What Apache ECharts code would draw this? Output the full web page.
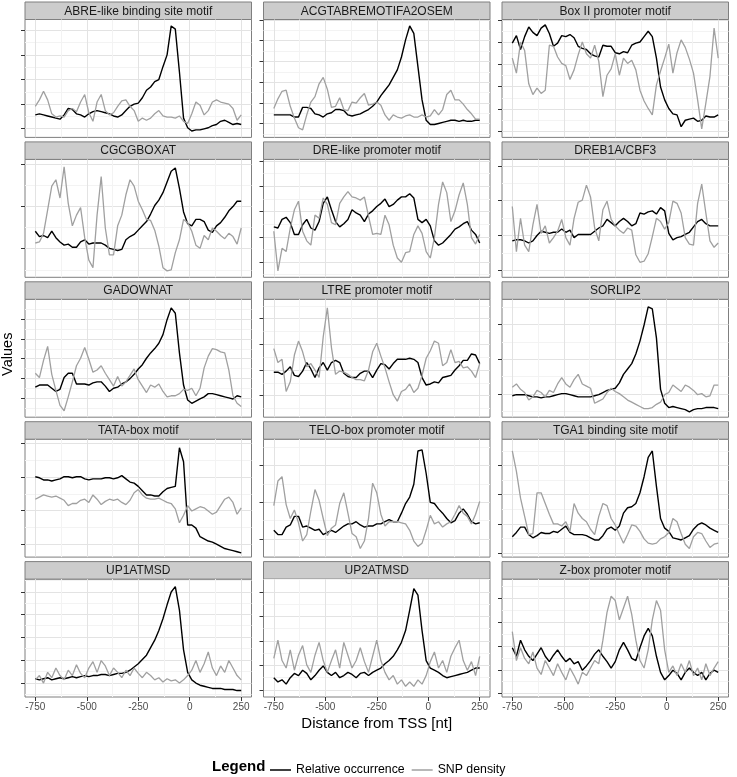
<!DOCTYPE html>
<html><head><meta charset="utf-8">
<script src="https://cdn.jsdelivr.net/npm/echarts@6/dist/echarts.min.js"></script>
<style>html,body{margin:0;padding:0;background:#fff;}#chart{width:737px;height:777px;}</style>
</head><body><div id="chart"></div>
<script>
// ---------------- data ----------------
const distance = [-750,-730,-710,-690,-670,-650,-630,-610,-590,-570,-550,-530,-510,-490,-470,-450,-430,-410,-390,-370,-350,-330,-310,-290,-270,-250,-230,-210,-190,-170,-150,-130,-110,-90,-70,-50,-30,-10,10,30,50,70,90,110,130,150,170,190,210,230,250];
const xTickValues = [-750,-500,-250,0,250];
const seriesNames = ['Relative occurrence','SNP density'];

const occ_ABRE = [16,17,16,15,14,13,12,16,22,21,17,16,14,17,19,20,19,18,17,15,14,16,20,24,26,27,32,39,42,47,49,61,72,99,96,56,13,4,1,2,2,3,4,6,7,10,11,9,7,8,7];
const snp_ABRE = [24,30,38,30,17,14,15,14,20,22,19,28,35,18,10,28,35,20,16,18,24,29,30,24,20,10,13,11,13,17,20,15,14,14,13,15,10,8,17,28,25,16,20,28,30,28,27,26,22,11,16];
const ticks_ABRE = [4,26,49,72,95];

const occ_ACGT = [16,16,16,16,16,14,14,23,23,22,17,16,14,17,18,21,21,20,16,15,16,17,19,21,24,28,34,39,44,51,58,70,86,99,92,61,30,11,7,7,8,9,10,11,11,10,11,10,10,11,11];
const snp_ACGT = [22,31,38,39,24,13,4,2,16,28,33,45,51,40,23,24,32,21,20,28,27,32,36,25,26,28,25,16,11,16,14,13,15,16,14,14,16,14,15,21,16,21,35,39,30,30,26,21,17,12,12];
const ticks_ACGT = [104.5,85.2,65.6,46.3,27.1,7.8];

const occ_BOX2 = [83,90,77,89,98,93,90,97,100,92,80,83,90,89,91,88,80,78,77,73,71,70,81,80,80,74,73,75,74,81,83,84,89,94,89,69,42,30,22,17,16,5,11,12,13,10,11,15,14,14,16];
const snp_BOX2 = [69,55,84,76,45,35,41,36,39,81,80,70,64,62,49,58,72,84,73,69,81,66,33,53,59,73,53,69,64,67,58,39,29,22,16,44,57,69,82,55,74,86,79,68,55,30,3,27,52,97,69];
const ticks_BOX2 = [104.5,83.7,63.1,42.3,21.5,0.9];

const occ_CGCG = [38,33,34,32,38,32,28,25,26,23,23,28,30,26,27,27,27,25,22,21,20,21,30,33,35,39,43,47,54,62,67,74,84,94,97,78,56,45,43,49,49,47,39,37,43,46,51,57,61,66,66];
const snp_CGCG = [27,28,36,58,80,86,69,98,64,43,53,60,32,11,4,53,89,41,16,16,43,53,72,86,80,66,58,49,48,39,24,4,1,2,18,30,49,46,38,25,22,34,30,41,38,34,31,36,33,26,41];
const ticks_CGCG = [100.6,61.2,21.7];

const occ_DRE = [42,41,49,51,46,35,35,44,49,41,39,47,64,70,58,47,42,45,49,58,55,53,47,54,57,61,64,68,61,63,67,70,70,73,69,49,46,49,43,29,25,27,31,35,40,42,45,47,39,35,27];
const snp_DRE = [38,1,22,19,41,58,66,38,29,25,53,50,69,63,46,44,64,70,75,70,69,67,70,52,35,36,35,53,44,25,13,9,18,19,35,43,36,19,13,32,63,84,74,47,57,72,83,63,32,26,35];
const ticks_DRE = [103.7,79.8,56.5,32.6,9.3];

const occ_DREB = [29,30,30,29,27,29,34,38,37,36,37,37,40,37,39,32,35,35,35,35,38,41,43,49,46,43,47,50,47,43,45,55,54,56,57,54,60,57,36,30,32,33,35,37,42,47,49,45,43,43,43];
const snp_DREB = [61,19,50,25,19,44,63,36,43,27,32,38,49,32,25,50,65,67,81,70,41,29,58,66,49,43,39,36,41,39,16,9,10,17,33,50,47,40,46,66,64,55,32,26,25,64,82,55,29,23,27];
const ticks_DREB = [98.4,66.5,33.9,1.6];

const occ_GAD = [23,25,25,25,22,19,21,32,36,36,26,26,26,25,27,28,28,24,19,22,23,26,28,31,35,40,44,50,55,59,64,72,86,97,92,55,25,11,8,10,12,14,17,17,16,15,14,13,12,15,14];
const snp_GAD = [36,32,48,61,35,20,6,1,14,28,43,50,60,49,37,39,43,36,30,24,33,24,28,34,40,30,24,18,25,23,26,19,14,15,15,17,21,20,22,15,22,41,52,59,58,56,55,39,15,8,5];
const ticks_GAD = [86.5,67.9,49.6,31.2,12.9];

const occ_LTRE = [37,37,35,38,42,34,33,38,46,40,32,41,46,39,46,48,46,36,33,32,32,36,38,38,32,39,45,44,40,45,49,49,49,50,49,46,32,25,26,28,27,32,33,34,39,43,48,48,54,53,45];
const snp_LTRE = [59,46,49,19,28,53,66,56,42,45,39,32,70,97,60,35,38,37,35,32,30,30,29,39,56,64,52,41,28,16,10,19,21,26,18,22,34,50,57,66,64,43,46,58,46,47,41,42,38,32,45];
const ticks_LTRE = [86.9,62.6,38.7,15.1];

const occ_SORLIP = [15,16,16,16,15,14,14,13,14,14,15,16,17,17,16,15,14,14,14,14,15,16,18,20,21,22,27,35,40,45,54,66,81,98,96,69,21,8,4,5,4,3,2,0,2,3,3,4,4,4,3];
const snp_SORLIP = [23,26,21,18,11,14,20,18,14,20,18,26,32,26,23,30,35,26,24,22,8,10,12,18,22,19,17,14,11,9,7,5,3,3,4,7,9,16,18,25,22,19,25,23,20,16,17,14,15,25,25];
const ticks_SORLIP = [81.3,49.3,16.6];

const occ_TATA = [70,69,67,67,66,67,68,70,70,69,70,70,68,67,68,68,68,69,69,68,69,71,68,65,64,61,57,53,53,52,52,56,59,60,61,97,84,25,25,22,14,12,10,9,7,5,3,2,1,0,-1];
const snp_TATA = [49,51,53,52,51,52,50,48,43,45,45,48,49,46,53,49,44,47,49,48,49,46,44,48,55,58,53,50,49,49,50,48,46,45,40,27,34,43,38,40,42,41,38,35,37,43,49,51,46,35,41];
const ticks_TATA = [101.4,69.4,38.3,6.6];

const occ_TELO = [20,16,16,23,25,33,33,23,24,22,20,21,16,18,20,18,21,24,26,26,28,25,23,24,24,26,26,28,30,28,28,36,45,51,63,94,95,73,46,45,40,36,31,27,29,36,40,35,28,26,27];
const snp_TELO = [43,66,70,44,31,39,27,10,16,38,58,48,31,15,22,25,45,55,36,17,14,3,10,31,64,55,35,24,28,28,28,27,26,20,10,5,8,20,34,26,28,23,26,28,35,43,36,33,26,35,47];
const ticks_TELO = [80.5,46.3,11.6];

const occ_TGA1 = [14,18,23,23,16,13,15,18,17,17,19,18,21,24,18,16,16,16,15,13,11,11,15,21,23,20,24,36,41,42,45,55,70,88,94,61,31,22,19,13,12,11,13,15,21,25,27,25,22,20,18];
const snp_TGA1 = [94,75,50,33,16,17,55,55,45,35,26,26,24,28,19,45,36,31,28,21,16,33,45,43,31,25,16,8,16,25,24,19,12,8,7,8,12,14,18,31,28,17,7,3,14,18,17,10,4,7,8];
const ticks_TGA1 = [80.5,53.2,25.8,-1.2];

const occ_UP1 = [12,11,12,13,11,12,13,12,13,14,13,14,15,14,15,15,16,16,15,16,17,17,18,20,23,26,30,34,41,48,57,68,81,93,98,76,39,18,11,8,6,5,4,3,3,3,2,2,2,1,1];
const snp_UP1 = [11,15,8,18,13,22,15,11,20,15,25,17,13,22,28,18,29,24,15,22,18,13,20,15,22,17,13,18,15,11,13,9,12,10,11,8,11,15,20,29,18,26,37,22,15,24,18,29,22,15,11];
const ticks_UP1 = [92.9,72.4,51,29.5,8];

const occ_UP2 = [13,9,11,7,13,17,15,20,17,11,15,20,24,18,15,18,13,15,18,16,13,17,18,15,18,20,22,26,29,33,39,46,57,76,96,90,57,29,22,20,18,15,13,14,15,16,17,18,20,22,22];
const snp_UP2 = [31,48,29,22,39,20,34,43,25,18,34,46,29,18,29,39,22,46,34,22,29,41,28,18,33,48,29,18,11,15,7,11,5,9,5,11,7,15,28,37,22,29,18,33,41,48,29,20,28,15,33];
const ticks_UP2 = [93,70.5,47.2,24.8,1.5];

const occ_ZBOX = [41,33,48,39,33,29,35,41,33,28,34,39,33,28,31,26,28,20,24,29,35,39,33,28,22,28,39,46,39,31,29,41,52,59,52,33,18,11,15,20,17,11,18,22,18,15,18,11,17,20,18];
const snp_ZBOX = [56,29,41,31,26,37,22,16,29,22,15,26,18,11,22,15,7,18,15,22,29,26,48,74,89,85,67,78,89,72,48,29,22,39,67,85,76,39,18,24,15,26,18,29,15,22,11,26,15,22,28];
const ticks_ZBOX = [87.3,65,42.5,20.1,-1.3];

const panels = [
  {name:'ABRE-like binding site motif', occ:occ_ABRE, snp:snp_ABRE, ticks:ticks_ABRE},
  {name:'ACGTABREMOTIFA2OSEM', occ:occ_ACGT, snp:snp_ACGT, ticks:ticks_ACGT},
  {name:'Box II promoter motif', occ:occ_BOX2, snp:snp_BOX2, ticks:ticks_BOX2},
  {name:'CGCGBOXAT', occ:occ_CGCG, snp:snp_CGCG, ticks:ticks_CGCG},
  {name:'DRE-like promoter motif', occ:occ_DRE, snp:snp_DRE, ticks:ticks_DRE},
  {name:'DREB1A/CBF3', occ:occ_DREB, snp:snp_DREB, ticks:ticks_DREB},
  {name:'GADOWNAT', occ:occ_GAD, snp:snp_GAD, ticks:ticks_GAD},
  {name:'LTRE promoter motif', occ:occ_LTRE, snp:snp_LTRE, ticks:ticks_LTRE},
  {name:'SORLIP2', occ:occ_SORLIP, snp:snp_SORLIP, ticks:ticks_SORLIP},
  {name:'TATA-box motif', occ:occ_TATA, snp:snp_TATA, ticks:ticks_TATA},
  {name:'TELO-box promoter motif', occ:occ_TELO, snp:snp_TELO, ticks:ticks_TELO},
  {name:'TGA1 binding site motif', occ:occ_TGA1, snp:snp_TGA1, ticks:ticks_TGA1},
  {name:'UP1ATMSD', occ:occ_UP1, snp:snp_UP1, ticks:ticks_UP1},
  {name:'UP2ATMSD', occ:occ_UP2, snp:snp_UP2, ticks:ticks_UP2},
  {name:'Z-box promoter motif', occ:occ_ZBOX, snp:snp_ZBOX, ticks:ticks_ZBOX}
];

// ---------------- layout ----------------
const FONT = '"Liberation Sans", Arial, Helvetica, sans-serif';
const colLeft = [25, 263.5, 502];
const panelW = 226.5;
const rowTop0 = 2, rowPitch = 139.9, stripH = 17.5, panelH = 117.9;
const yMin = -5, yMax = 105, xMin = -800, xMax = 300;
const majorColor = '#e3e3e3', minorColor = '#f3f3f3', borderColor = '#7f7f7f';

function minorOf(vals, lo, hi) {
  const s = vals.slice().sort((a,b)=>a-b), out = [];
  for (let i = 0; i < s.length - 1; i++) out.push((s[i]+s[i+1])/2);
  if (s.length > 1) {
    const step = s[1]-s[0];
    if (s[0]-step/2 > lo) out.unshift(s[0]-step/2);
    if (s[s.length-1]+step/2 < hi) out.push(s[s.length-1]+step/2);
  }
  return out;
}
const xMinor = minorOf(xTickValues, xMin, xMax);

const grids=[], xAxes=[], yAxes=[], series=[], graphics=[];
panels.forEach((p, k) => {
  const r = Math.floor(k/3), c = k % 3;
  const left = colLeft[c], stripTop = rowTop0 + r*rowPitch, top = stripTop + stripH;
  const isBottom = r === 4;
  grids.push({left:left, top:top, width:panelW, height:panelH, show:true, borderColor:borderColor, borderWidth:1, backgroundColor:'#fff'});
  xAxes.push({type:'value', gridIndex:k, min:xMin, max:xMax, position:'bottom',
    axisLine:{show:false, onZero:false},
    axisTick:{show:isBottom, customValues:xTickValues, length:4, lineStyle:{color:'#333', width:1}},
    axisLabel:{show:isBottom, customValues:xTickValues, fontSize:10, color:'#4d4d4d', margin:5, fontFamily:FONT},
    splitLine:{show:true, lineStyle:{color:majorColor, width:1}}});
  xAxes.push({type:'value', gridIndex:k, min:xMin, max:xMax, position:'top',
    axisLine:{show:false, onZero:false}, axisTick:{show:false, customValues:xMinor}, axisLabel:{show:false},
    splitLine:{show:true, lineStyle:{color:minorColor, width:1}}});
  yAxes.push({type:'value', gridIndex:k, min:yMin, max:yMax, position:'left',
    axisLine:{show:false, onZero:false},
    axisTick:{show:true, customValues:p.ticks, length:4, lineStyle:{color:'#333', width:1}},
    axisLabel:{show:false},
    splitLine:{show:true, lineStyle:{color:majorColor, width:1}}});
  yAxes.push({type:'value', gridIndex:k, min:yMin, max:yMax, position:'right',
    axisLine:{show:false, onZero:false}, axisTick:{show:false, customValues:minorOf(p.ticks, yMin, yMax)}, axisLabel:{show:false},
    splitLine:{show:true, lineStyle:{color:minorColor, width:1}}});
  series.push({type:'line', name:seriesNames[0], xAxisIndex:2*k, yAxisIndex:2*k,
    data: distance.map((d,i)=>[d, p.occ[i]]), symbol:'none', showSymbol:false, silent:true,
    lineStyle:{color:'#000', width:1.4}, itemStyle:{color:'#000'}, z:3});
  series.push({type:'line', name:seriesNames[1], xAxisIndex:2*k, yAxisIndex:2*k,
    data: distance.map((d,i)=>[d, p.snp[i]]), symbol:'none', showSymbol:false, silent:true,
    lineStyle:{color:'#a0a0a0', width:1.3}, itemStyle:{color:'#a0a0a0'}, z:4});
  graphics.push({type:'rect', shape:{x:left, y:stripTop, width:panelW, height:stripH},
    style:{fill:'#cccccc', stroke:borderColor, lineWidth:1}, silent:true});
  graphics.push({type:'text', x:left+panelW/2, y:stripTop+stripH/2+0.5, silent:true,
    style:{text:p.name, textAlign:'center', textVerticalAlign:'middle', align:'center', verticalAlign:'middle',
      font:'12px ' + FONT, fill:'#1a1a1a'}});
});

const panelsLeft = colLeft[0], panelsRight = colLeft[2] + panelW;
const lastBottom = rowTop0 + 4*rowPitch + stripH + panelH;
graphics.push({type:'text', x:(panelsLeft+panelsRight)/2, y:lastBottom+27, silent:true,
  style:{text:'Distance from TSS [nt]', textAlign:'center', textVerticalAlign:'middle', align:'center', verticalAlign:'middle', font:'15px ' + FONT, fill:'#000'}});
graphics.push({type:'text', x:8, y:(rowTop0+stripH+lastBottom)/2 - 4, rotation:Math.PI/2, silent:true,
  style:{text:'Values', textAlign:'center', textVerticalAlign:'middle', align:'center', verticalAlign:'middle', font:'14.5px ' + FONT, fill:'#000'}});
graphics.push({type:'text', x:212, y:767, silent:true,
  style:{text:'Legend', textAlign:'left', textVerticalAlign:'middle', align:'left', verticalAlign:'middle', font:'bold 15px ' + FONT, fill:'#000'}});

const chart = echarts.init(document.getElementById('chart'), null, {renderer:'canvas'});
chart.setOption({
  animation:false,
  backgroundColor:'#fff',
  textStyle:{fontFamily:FONT},
  grid:grids, xAxis:xAxes, yAxis:yAxes, series:series,
  legend:{data:seriesNames, left:265, top:759, icon:'rect', itemWidth:21, itemHeight:1.5, itemGap:7,
    selectedMode:false, textStyle:{fontSize:12.3, color:'#000', fontFamily:FONT}},
  graphic:graphics
});
</script></body></html>
